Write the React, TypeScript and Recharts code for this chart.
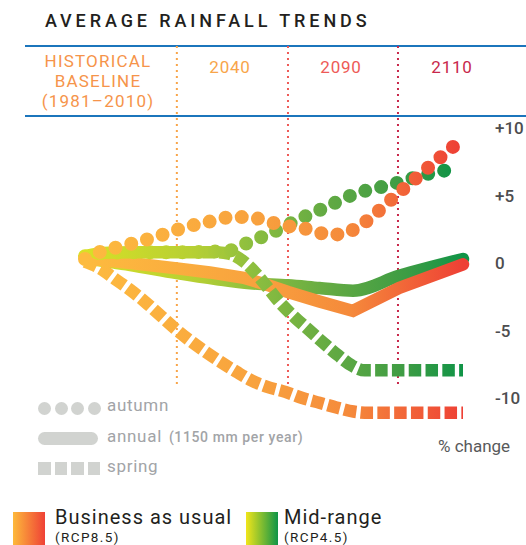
import { LineChart, Line, XAxis, YAxis, ReferenceLine } from "recharts";

// x runs 0..100 from the baseline start to the last projection
const periods = ["2040", "2090", "2110"];
const periodX = [24.3, 53.7, 82.8];
const periodColors = ["#F8A54A", "#EE5A57", "#C8284B"];
const periodLabelX = [230, 341, 452];

const yTicks = [10, 5, 0, -5, -10];

// Business as usual (RCP8.5)
const bauAutumn: [number, number][] = [
  [0, 0.3], [5.3, 0.95], [9.3, 1.2], [13.2, 1.5], [17.7, 1.85], [21.7, 2.2],
  [25.9, 2.6], [30.2, 2.9], [34.4, 3.15], [38.6, 3.4], [42.9, 3.4], [47.1, 3.2],
  [51.3, 2.85], [55.6, 2.65], [60.1, 2.45], [64.3, 2.1], [68.5, 2.15], [72.2, 2.7],
  [75.9, 3.4], [78.8, 4.15], [82.5, 5.05], [85.7, 5.85], [89.2, 6.65], [92.1, 7.4],
  [95.5, 8.15], [98.7, 8.95],
];
const bauAnnual: [number, number][] = [
  [0, 0.35], [12, 0.0], [24.3, -0.4], [33, -0.7], [42, -1.1], [48, -1.6],
  [53.7, -2.15], [62, -2.85], [70.9, -3.55], [83.1, -1.85], [100, -0.1],
];
const bauSpring: [number, number][] = [
  [0, 0.1], [4, -0.4], [8, -1.2], [12, -2.0], [16, -2.9], [20, -3.9], [24, -4.9],
  [28, -5.8], [32, -6.6], [36, -7.35], [40, -8.05], [44, -8.7], [48, -9.15],
  [53, -9.55], [57.5, -10.0], [62, -10.35], [66.5, -10.7], [71, -11.0], [75, -11.1],
  [100, -11.1],
];

// Mid-range (RCP4.5)
const midAutumn: [number, number][] = [
  [0, 0.5], [5, 0.75], [15, 0.8], [25, 0.8], [34, 0.85], [38, 0.9], [40.7, 1.2],
  [44.7, 1.7], [48.4, 2.1], [52.4, 2.65], [56.3, 3.2], [60.3, 3.7], [64.3, 4.2],
  [68.3, 4.75], [72.2, 5.2], [76.7, 5.5], [80.7, 5.8], [84.7, 6.1], [89.2, 6.5],
  [93.4, 6.75], [98, 7.0],
];
const midAnnual: [number, number][] = [
  [0, 0.35], [12, -0.15], [24.3, -0.75], [35, -1.2], [43.7, -1.5], [53.7, -1.65],
  [62, -1.85], [70.9, -2.05], [83.1, -0.95], [100, 0.3],
];
const midSpring: [number, number][] = [
  [0, 0.5], [5, 0.75], [15, 0.8], [25, 0.8], [34, 0.8], [38, 0.7], [42, 0.1],
  [45, -0.7], [48, -1.7], [51, -2.75], [55, -3.9], [59, -4.9], [63, -5.9],
  [67, -6.85], [70.6, -7.6], [74, -7.95], [100, -7.95],
];

const rows = (pts: [number, number][]) => pts.map(([x, v]) => ({ x, v }));

const font = "Roboto, 'DejaVu Sans', sans-serif";

const abs = (left: number, top: number, extra: React.CSSProperties = {}): React.CSSProperties => ({
  position: "absolute",
  left,
  top,
  fontFamily: font,
  whiteSpace: "nowrap",
  ...extra,
});

const App = () => {
  return (
    <div style={{ position: "absolute", left: 0, top: 0, width: 526, height: 545, background: "#fff", overflow: "hidden" }}>
      <div style={abs(45, 12, { fontSize: 18, lineHeight: "18px", letterSpacing: 3.9, fontWeight: 500, color: "#231F20" })}>
        AVERAGE RAINFALL TRENDS
      </div>

      <div style={{ position: "absolute", left: 25, top: 45, width: 501, height: 2, background: "#1B75BC" }} />
      <div style={{ position: "absolute", left: 25, top: 115, width: 501, height: 2, background: "#1B75BC" }} />

      <div style={abs(38, 51, { width: 120, textAlign: "center", fontSize: 17, lineHeight: "20px", letterSpacing: 1.2, color: "#F6944A" })}>
        HISTORICAL<br />BASELINE<br />(1981–2010)
      </div>
      {periods.map((p, i) => (
        <div key={p} style={abs(periodLabelX[i] - 40, 59, { width: 80, textAlign: "center", fontSize: 17, lineHeight: "17px", letterSpacing: 0.8, color: periodColors[i] })}>
          {p}
        </div>
      ))}

      <div style={{ position: "absolute", left: 0, top: 0 }}>
        <LineChart width={526} height={545} margin={{ top: 40.25, right: 23, bottom: 113.25, left: 85 }}>
          <defs>
            <linearGradient id="bau" x1="0" y1="0" x2="1" y2="0">
              <stop offset="0%" stopColor="#FDBB3F" />
              <stop offset="45%" stopColor="#F8A23E" />
              <stop offset="70%" stopColor="#F58A3B" />
              <stop offset="100%" stopColor="#EE4035" />
            </linearGradient>
            <linearGradient id="mid" x1="0" y1="0" x2="1" y2="0">
              <stop offset="0%" stopColor="#D8E026" />
              <stop offset="30%" stopColor="#B5CF34" />
              <stop offset="45%" stopColor="#8CBE3F" />
              <stop offset="65%" stopColor="#63AA43" />
              <stop offset="85%" stopColor="#3D9C44" />
              <stop offset="100%" stopColor="#109447" />
            </linearGradient>
          </defs>
          <XAxis dataKey="x" type="number" domain={[0, 100]} hide />
          <YAxis
            orientation="right"
            type="number"
            domain={[-12.5, 16.5]}
            ticks={yTicks}
            width={40}
            axisLine={false}
            tickLine={false}
            tickSize={6}
            tickMargin={26}
            interval={0}
            tickFormatter={(v: number) => (v > 0 ? `+${v}` : `${v}`)}
            tick={{ fontSize: 17, fill: "#4D4D4F", fontWeight: 500, fontFamily: font, textAnchor: "start" }}
          />
          {periodX.map((x, i) => (
            <ReferenceLine
              key={periods[i]}
              segment={[{ x, y: 16.07 }, { x, y: -9.26 }]}
              stroke={periodColors[i]}
              strokeWidth={2}
              strokeDasharray="2 4"
            />
          ))}

          <Line data={rows(midAnnual)} dataKey="v" type="monotone" stroke="url(#mid)" strokeWidth={12.5} strokeLinecap="round" dot={false} activeDot={false} isAnimationActive={false} />
          <Line data={rows(bauAnnual)} dataKey="v" type="linear" stroke="url(#bau)" strokeWidth={12.5} strokeLinecap="round" dot={false} activeDot={false} isAnimationActive={false} />
          <Line data={rows(midSpring)} dataKey="v" type="monotone" stroke="url(#mid)" strokeWidth={12.5} strokeDasharray="12.5 4.3" dot={false} activeDot={false} isAnimationActive={false} />
          <Line data={rows(midAutumn)} dataKey="v" type="monotone" stroke="url(#mid)" strokeWidth={14} strokeLinecap="round" strokeDasharray="0 16.3" dot={false} activeDot={false} isAnimationActive={false} />
          <Line data={rows(bauSpring)} dataKey="v" type="monotone" stroke="url(#bau)" strokeWidth={12.5} strokeDasharray="12.5 4.3" dot={false} activeDot={false} isAnimationActive={false} />
          <Line data={rows(bauAutumn)} dataKey="v" type="monotone" stroke="url(#bau)" strokeWidth={14} strokeLinecap="round" strokeDasharray="0 16.3" dot={false} activeDot={false} isAnimationActive={false} />
        </LineChart>
      </div>

      <div style={abs(438, 438, { fontSize: 17, lineHeight: "17px", color: "#58595B" })}>% change</div>

      {[0, 1, 2, 3].map((i) => (
        <div key={"a" + i} style={{ position: "absolute", left: 38 + i * 16.5, top: 401.5, width: 13, height: 13, borderRadius: 7, background: "#D1D3D0" }} />
      ))}
      <div style={abs(107, 397, { fontSize: 17, lineHeight: "17px", letterSpacing: 0.7, color: "#A2A4A7" })}>autumn</div>

      <div style={{ position: "absolute", left: 38, top: 432, width: 60, height: 13, borderRadius: 7, background: "#D1D3D0" }} />
      <div style={abs(107, 428, { fontSize: 17, lineHeight: "17px", letterSpacing: 0.7, color: "#A2A4A7" })}>
        annual <span style={{ fontSize: 14, letterSpacing: 0.6, fontWeight: 500, marginLeft: 2 }}>(1150 mm per year)</span>
      </div>

      {[0, 1, 2, 3].map((i) => (
        <div key={"s" + i} style={{ position: "absolute", left: 38 + i * 16.5, top: 462, width: 12.5, height: 13, background: "#D1D3D0" }} />
      ))}
      <div style={abs(107, 458, { fontSize: 17, lineHeight: "17px", letterSpacing: 0.7, color: "#A2A4A7" })}>spring</div>

      <div style={{ position: "absolute", left: 13, top: 512, width: 32, height: 40, background: "linear-gradient(to right, #FDB93B, #EF4136)" }} />
      <div style={abs(55, 507, { fontSize: 20, lineHeight: "20px", letterSpacing: 1.0, color: "#231F20" })}>Business as usual</div>
      <div style={abs(55, 529.5, { fontSize: 13.5, lineHeight: "15px", letterSpacing: 1.4, color: "#231F20" })}>(RCP8.5)</div>

      <div style={{ position: "absolute", left: 246, top: 512, width: 32, height: 40, background: "linear-gradient(to right, #F1E51B, #0E9447)" }} />
      <div style={abs(284, 507, { fontSize: 20, lineHeight: "20px", letterSpacing: 1.0, color: "#231F20" })}>Mid-range</div>
      <div style={abs(284, 529.5, { fontSize: 13.5, lineHeight: "15px", letterSpacing: 1.4, color: "#231F20" })}>(RCP4.5)</div>
    </div>
  );
};

export default App;
